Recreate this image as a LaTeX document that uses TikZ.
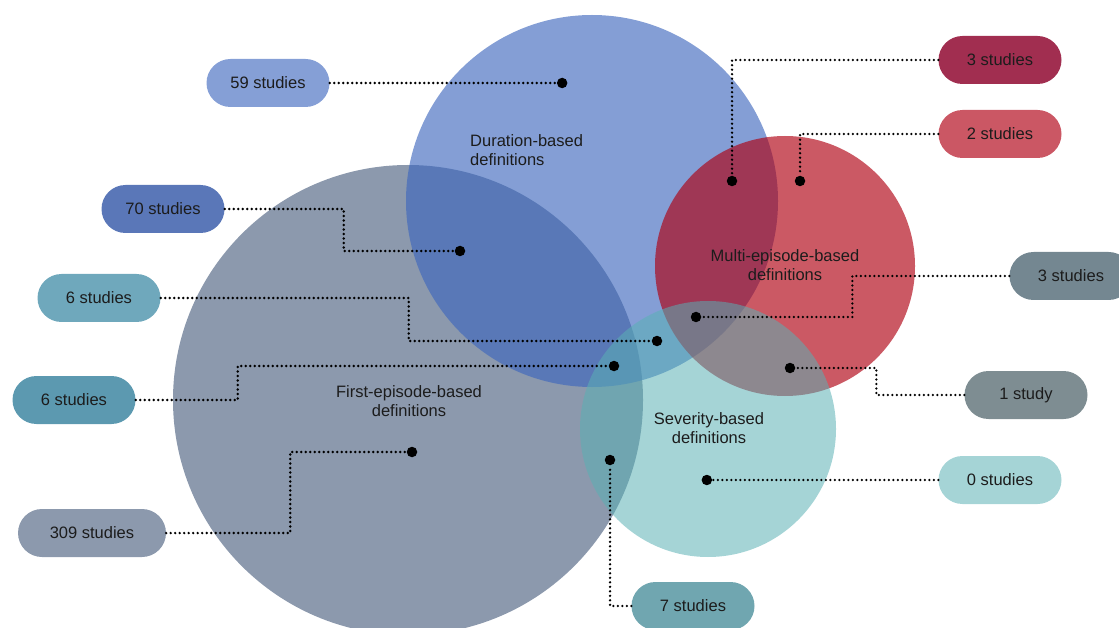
\documentclass[tikz,border=0pt]{standalone}
\usepackage{fontspec}
\setmainfont{Liberation Sans}
\usetikzlibrary{positioning}

\definecolor{firstcol}{RGB}{140,153,173}
\definecolor{durcol}{RGB}{60,102,189}
\definecolor{multicol}{RGB}{175,0,17}
\definecolor{sevcol}{RGB}{89,176,180}
\definecolor{txtcol}{RGB}{28,28,28}

\definecolor{boxdur}{RGB}{133,159,214}
\definecolor{boxdurfirst}{RGB}{90,119,184}
\definecolor{boxdursev}{RGB}{111,168,188}
\definecolor{boxall}{RGB}{92,153,176}
\definecolor{boxfirst}{RGB}{140,153,173}
\definecolor{boxdurmulti}{RGB}{161,46,80}
\definecolor{boxmulti}{RGB}{203,87,100}
\definecolor{boxdurmultisev}{RGB}{116,135,145}
\definecolor{boxmultisev}{RGB}{126,141,146}
\definecolor{boxsev}{RGB}{165,212,214}
\definecolor{boxfirstsev}{RGB}{112,166,176}

\tikzset{
    count/.style={rounded corners=24pt, minimum width=123pt, minimum height=48pt,
        inner sep=0pt, text=txtcol, font=\fontsize{16.5}{19}\selectfont},
    spot/.style={circle, fill=black, inner sep=0pt, minimum size=10.5pt},
    lead/.style={line width=2.6pt, dash pattern=on 0pt off 4.5pt, line cap=round},
    setlabel/.style={text=txtcol, align=center, inner sep=0pt,
        font=\fontsize{16.5}{19}\selectfont},
}

\begin{document}
\begin{tikzpicture}[x=1pt, y=-1pt]
    \useasboundingbox (0,0) rectangle (1119,628);
    \clip (0,0) rectangle (1119,628);

    \fill[firstcol] (408,400) circle[radius=235pt];
    \fill[durcol, fill opacity=0.63] (592,201) circle[radius=186pt];
    \fill[multicol, fill opacity=0.65] (785,266) circle[radius=130pt];
    \fill[sevcol, fill opacity=0.54] (708,429) circle[radius=128pt];

    \node[setlabel, align=left, anchor=west] (dur) at (470,150.5) {Duration-based\\definitions};
    \node[setlabel] (first) at (409,401) {First-episode-based\\definitions};
    \node[setlabel] (multi) at (785,265.5) {Multi-episode-based\\definitions};
    \node[setlabel] (sev) at (709,428.5) {Severity-based\\definitions};

    \node[count, fill=boxdur] (s59) at (268,83) {59 studies};
    \node[count, fill=boxdurfirst] (s70) at (163,209) {70 studies};
    \node[count, fill=boxdursev] (s6a) at (99,298) {6 studies};
    \node[count, fill=boxall] (s6b) at (74,400) {6 studies};
    \node[count, fill=boxfirst, minimum width=148pt] (s309) at (92,533) {309 studies};
    \node[count, fill=boxdurmulti] (s3a) at (1000,60) {3 studies};
    \node[count, fill=boxmulti] (s2) at (1000,134) {2 studies};
    \node[count, fill=boxdurmultisev] (s3b) at (1071,276) {3 studies};
    \node[count, fill=boxmultisev] (s1) at (1026,395) {1 study};
    \node[count, fill=boxsev] (s0) at (1000,480) {0 studies};
    \node[count, fill=boxfirstsev] (s7) at (693,606) {7 studies};

    \node[spot] (d59) [right=227pt of s59] {};
    \node[spot] (d70) at (460,251) {};
    \node[spot] (d6a) at (657,341) {};
    \node[spot] (d6b) at (614,366) {};
    \node[spot] (d309) at (412,452) {};
    \node[spot] (d3a) at (732,181) {};
    \node[spot] (d2) at (800,181) {};
    \node[spot] (d3b) at (696,317) {};
    \node[spot] (d1) at (790,368) {};
    \node[spot] (d0) [left=226pt of s0] {};
    \node[spot] (d7) at (610,460) {};

    \draw[lead] (s59.east) -- (d59);
    \draw[lead] (s70.east) -- ++(119,0) |- (d70);
    \draw[lead] (s6a.east) -- ++(248,0) |- (d6a);
    \draw[lead] (s6b.east) -- ++(102,0) |- (d6b);
    \draw[lead] (s309.east) -- ++(124,0) |- (d309);
    \draw[lead] (s3a.west) -| (d3a);
    \draw[lead] (s2.west) -| (d2);
    \draw[lead] (s3b.west) -- ++(-157,0) |- (d3b);
    \draw[lead] (s1.west) -- ++(-88,0) |- (d1);
    \draw[lead] (s0.west) -- (d0);
    \draw[lead] (s7.west) -| (d7);
\end{tikzpicture}
\end{document}
